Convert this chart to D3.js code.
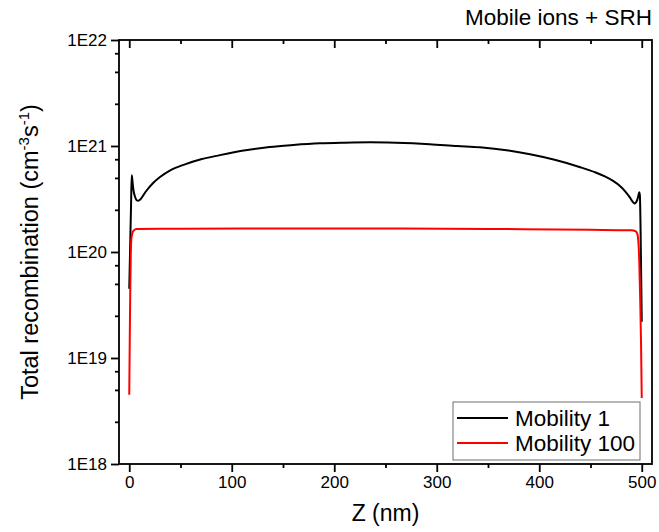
<!DOCTYPE html>
<html>
<head>
<meta charset="utf-8">
<script src="https://cdn.jsdelivr.net/npm/d3@7"></script>
<style>
  body { margin: 0; background: #fff; }
  svg { display: block; font-family: Arial, "Liberation Sans", sans-serif; }
</style>
</head>
<body>
<svg id="chart" width="659" height="532"></svg>
<script>
// Depth coordinate (nm) and total recombination rate (cm^-3 s^-1)
const zMobility1 = [0, 0.6, 1.2, 1.8, 2.4, 3, 4, 5.5, 7, 8.8, 11, 16, 23.5, 30, 40, 55, 70, 88.5, 110, 137, 160, 186, 210, 235, 260, 293, 320, 342, 370, 391, 415, 440, 455, 464.5, 472, 479, 484, 488, 490, 492, 493, 494.5, 495.5, 496.7, 497.6, 498.2, 498.8, 499.4, 500];
const rateMobility1 = [4.5e19, 8.3e19, 1.55e20, 2.9e20, 5.3e20, 4.8e20, 3.9e20, 3.35e20, 3.1e20, 3.05e20, 3.15e20, 3.7e20, 4.5e20, 5.1e20, 5.9e20, 6.75e20, 7.5e20, 8.2e20, 9.0e20, 9.8e20, 1.023e21, 1.06e21, 1.075e21, 1.083e21, 1.072e21, 1.04e21, 1.0e21, 9.73e20, 9.06e20, 8.35e20, 7.41e20, 6.31e20, 5.62e20, 5.13e20, 4.68e20, 4.17e20, 3.72e20, 3.31e20, 3.09e20, 2.92e20, 2.87e20, 2.95e20, 3.09e20, 3.39e20, 3.67e20, 3.39e20, 1.78e20, 6.3e19, 2.2e19];

const zMobility100 = [0, 0.5, 1, 1.5, 2, 3, 4.5, 7, 50, 150, 250, 350, 450, 490, 493.5, 495.5, 496.7, 497.6, 498.5, 499.3, 500];
const rateMobility100 = [4.5e18, 1.5e19, 4.5e19, 9.5e19, 1.3e20, 1.5e20, 1.6e20, 1.65e20, 1.66e20, 1.67e20, 1.67e20, 1.65e20, 1.62e20, 1.6e20, 1.58e20, 1.5e20, 1.25e20, 8e19, 3.5e19, 1.4e19, 4.2e18];

const seriesNames = ["Mobility 1", "Mobility 100"];
const seriesColors = ["#000000", "#ff0000"];

const xTicks = [0, 100, 200, 300, 400, 500];
const xMinorTicks = [50, 150, 250, 350, 450];
const yTicks = [1e18, 1e19, 1e20, 1e21, 1e22];
const yMinorSteps = [2.5, 5, 7.5];

const chartTitle = "Mobile ions + SRH";
const xTitle = "Z (nm)";

const svg = d3.select("#chart");
const plot = { left: 119, right: 652, top: 40, bottom: 464 };

const x = d3.scaleLinear().domain([-10, 510]).range([plot.left, plot.right]);
const y = d3.scaleLog().domain([1e18, 1e22]).range([plot.bottom, plot.top]);

const yMinorTicks = [];
yTicks.slice(0, -1).forEach(d => yMinorSteps.forEach(m => yMinorTicks.push(d * m)));

const axisStroke = 1.8;
const tickFont = 17;

function styleAxis(g) {
  g.select(".domain").remove();
  g.selectAll(".tick line").attr("stroke", "#000").attr("stroke-width", axisStroke);
  g.selectAll(".tick text").attr("fill", "#000").attr("font-size", tickFont);
}

// bottom axis: ticks outward
svg.append("g").attr("transform", `translate(0,${plot.bottom})`)
  .call(d3.axisBottom(x).tickValues(xTicks).tickSize(8).tickPadding(4).tickFormat(d3.format("d")))
  .call(styleAxis);
svg.append("g").attr("transform", `translate(0,${plot.bottom})`)
  .call(d3.axisBottom(x).tickValues(xMinorTicks).tickSize(4).tickFormat(""))
  .call(styleAxis);

// top axis: ticks inward
svg.append("g").attr("transform", `translate(0,${plot.top})`)
  .call(d3.axisTop(x).tickValues(xTicks).tickSize(-8).tickFormat(""))
  .call(styleAxis);
svg.append("g").attr("transform", `translate(0,${plot.top})`)
  .call(d3.axisTop(x).tickValues(xMinorTicks).tickSize(-4).tickFormat(""))
  .call(styleAxis);

// left axis: ticks outward
svg.append("g").attr("transform", `translate(${plot.left},0)`)
  .call(d3.axisLeft(y).tickValues(yTicks).tickSize(8).tickPadding(4)
    .tickFormat(d => "1E" + Math.round(Math.log10(d))))
  .call(styleAxis);
svg.append("g").attr("transform", `translate(${plot.left},0)`)
  .call(d3.axisLeft(y).tickValues(yMinorTicks).tickSize(4).tickFormat(""))
  .call(styleAxis);

// plot frame
svg.append("rect")
  .attr("x", plot.left).attr("y", plot.top)
  .attr("width", plot.right - plot.left).attr("height", plot.bottom - plot.top)
  .attr("fill", "none").attr("stroke", "#000").attr("stroke-width", axisStroke);

// curves
svg.append("clipPath").attr("id", "plotClip")
  .append("rect").attr("x", plot.left).attr("y", plot.top)
  .attr("width", plot.right - plot.left).attr("height", plot.bottom - plot.top);

const line = d3.line().x(d => x(d[0])).y(d => y(d[1])).curve(d3.curveMonotoneX);
const series = [
  d3.zip(zMobility1, rateMobility1),
  d3.zip(zMobility100, rateMobility100)
];
series.forEach((pts, i) => {
  svg.append("path")
    .datum(pts)
    .attr("clip-path", "url(#plotClip)")
    .attr("fill", "none")
    .attr("stroke", seriesColors[i])
    .attr("stroke-width", 2)
    .attr("stroke-linejoin", "round")
    .attr("d", line);
});

// titles
svg.append("text")
  .attr("x", plot.right).attr("y", 25)
  .attr("text-anchor", "end").attr("font-size", 22.5).attr("fill", "#000")
  .text(chartTitle);

svg.append("text")
  .attr("x", (plot.left + plot.right) / 2).attr("y", 521)
  .attr("text-anchor", "middle").attr("font-size", 23).attr("fill", "#000")
  .text(xTitle);

const yTitle = svg.append("text")
  .attr("transform", `translate(38,${(plot.top + plot.bottom) / 2}) rotate(-90)`)
  .attr("text-anchor", "middle").attr("font-size", 23.5).attr("fill", "#000");
yTitle.append("tspan").text("Total recombination (cm");
yTitle.append("tspan").attr("font-size", 15).attr("dy", -9).text("-3");
yTitle.append("tspan").attr("dy", 9).text("s");
yTitle.append("tspan").attr("font-size", 15).attr("dy", -9).text("-1");
yTitle.append("tspan").attr("dy", 9).text(")");

// legend
const legend = svg.append("g");
const lg = { x: 453, y: 402, w: 187, h: 58 };
legend.append("rect")
  .attr("x", lg.x).attr("y", lg.y).attr("width", lg.w).attr("height", lg.h)
  .attr("fill", "#fff").attr("stroke", "#6e6e6e").attr("stroke-width", 1);
seriesNames.forEach((name, i) => {
  const cy = 418 + i * 25;
  legend.append("line")
    .attr("x1", 457).attr("x2", 508).attr("y1", cy).attr("y2", cy)
    .attr("stroke", seriesColors[i]).attr("stroke-width", 2);
  legend.append("text")
    .attr("x", 515).attr("y", cy).attr("dy", "0.35em")
    .attr("font-size", 22.5).attr("fill", "#000")
    .text(name);
});
</script>
</body>
</html>
